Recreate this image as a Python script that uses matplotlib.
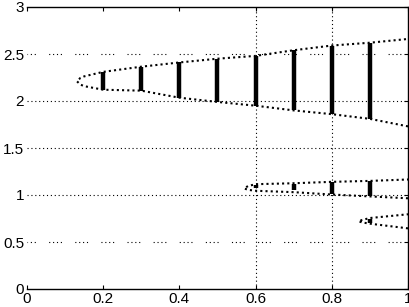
import numpy as np
import matplotlib.pyplot as plt

# ---------- DATA ----------
# main branch: vertex + upper/lower edges
main_x = [0.131, 0.14, 0.15, 0.2, 0.3, 0.4, 0.5, 0.6, 0.7, 0.8, 0.9, 1.0]
main_up = [2.21, 2.245, 2.262, 2.31, 2.365, 2.41, 2.45, 2.48, 2.54, 2.59, 2.62, 2.66]
main_lo = [2.21, 2.175, 2.158, 2.12, 2.11, 2.035, 1.99, 1.95, 1.90, 1.86, 1.81, 1.73]

# second branch
mid_x = [0.57, 0.58, 0.6, 0.7, 0.8, 0.9, 1.0]
mid_up = [1.07, 1.095, 1.115, 1.125, 1.14, 1.15, 1.165]
mid_lo = [1.07, 1.055, 1.045, 1.03, 1.005, 0.985, 0.965]

# third branch
low_x = [0.87, 0.88, 0.9, 1.0]
low_up = [0.72, 0.735, 0.755, 0.795]
low_lo = [0.72, 0.708, 0.695, 0.645]

# vertical bars (sampled points spread)
bar_x = [0.2, 0.3, 0.4, 0.5, 0.6, 0.7, 0.8, 0.9]
bar_lo = [2.12, 2.11, 2.035, 1.99, 1.95, 1.90, 1.86, 1.81]
bar_hi = [2.31, 2.365, 2.41, 2.45, 2.48, 2.54, 2.59, 2.62]
bar2_x = [0.6, 0.7, 0.8, 0.9]
bar2_lo = [1.07, 1.05, 1.01, 0.99]
bar2_hi = [1.11, 1.12, 1.14, 1.15]
bar3_x = [0.9]
bar3_lo = [0.70]
bar3_hi = [0.745]

xticks = [0, 0.2, 0.4, 0.6, 0.8, 1]
xlabels = ["0", "0.2", "0.4", "0.6", "0.8", "1"]
yticks = [0, 0.5, 1, 1.5, 2, 2.5, 3]
ylabels = ["0", "0.5", "1", "1.5", "2", "2.5", "3"]
sparse_grid = [0.5, 2.5]
dense_grid = [1, 1.5, 2]
vgrid = [0.6, 0.8]

plt.rcParams['font.family'] = ['Liberation Sans', 'DejaVu Sans']

fig = plt.figure(figsize=(4.1, 3.07), dpi=100)
ax = fig.add_axes([27 / 410, 18 / 307, 381 / 410, 282 / 307])

# grid (the old renderer left some lines patchy)
for y in dense_grid:
    ax.axhline(y, color='black', lw=0.8, ls=(0, (1, 2.5)), zorder=0)
for y in sparse_grid:
    ax.axhline(y, color='black', lw=0.8, ls=(4, (1, 2.5, 1, 2.5, 1, 2.5, 1, 12)), zorder=0)
for x in vgrid:
    ax.axvline(x, color='black', lw=0.8, ls=(0, (1, 2.5)), zorder=0)

dot = (0, (1, 1.5))
for bx, bu, bl in [(main_x, main_up, main_lo), (mid_x, mid_up, mid_lo), (low_x, low_up, low_lo)]:
    xs = np.concatenate([bx[::-1], bx[1:]])
    ys = np.concatenate([bl[::-1], bu[1:]])
    ax.plot(xs, ys, color='black', lw=1.5, ls=dot)

ax.vlines(bar_x, bar_lo, bar_hi, color='black', lw=3.2)
ax.vlines(bar2_x, bar2_lo, bar2_hi, color='black', lw=3.2)
ax.vlines(bar3_x, bar3_lo, bar3_hi, color='black', lw=3.2)

ax.set_xlim(0, 1)
ax.set_ylim(0, 3)
ax.set_xticks(xticks)
ax.set_xticklabels(xlabels)
ax.set_yticks(yticks)
ax.set_yticklabels(ylabels)
ax.tick_params(direction='in', length=3, labelsize=11, pad=2,
               right=True, top=True, left=False)
ax.spines['left'].set_visible(False)
for s in ['top', 'bottom', 'right']:
    ax.spines[s].set_linewidth(1.0)

fig.savefig("out.png", dpi=100)
